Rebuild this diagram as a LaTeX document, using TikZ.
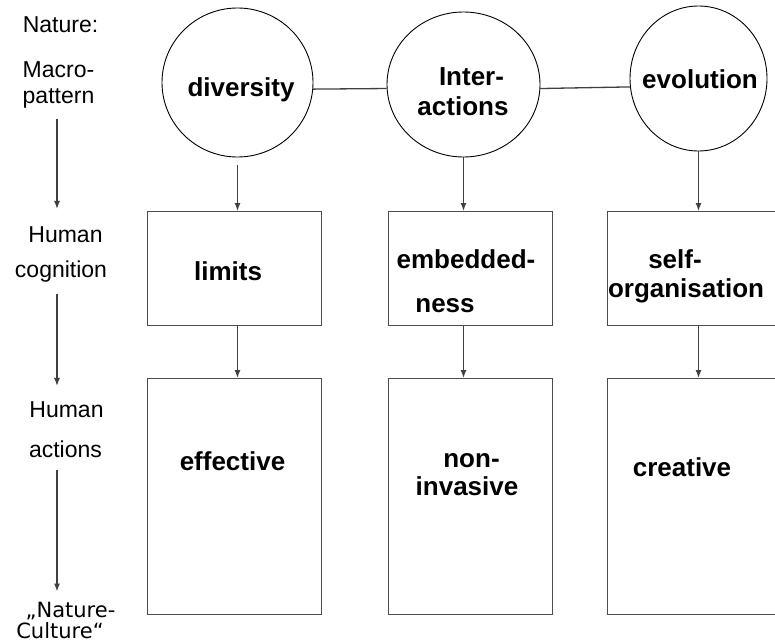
\documentclass[tikz,border=0pt]{standalone}
\usepackage{fontspec}
\setmainfont{Liberation Sans}
\newfontfamily\handfont{DejaVu Sans}
\usetikzlibrary{arrows.meta,shapes.geometric}
\begin{document}
\begin{tikzpicture}[x=1pt,y=-1pt,>={Latex[length=8pt,width=6pt]},
    lbl/.style={anchor=base,inner sep=0pt,font=\fontsize{23}{26}\selectfont},
    hand/.style={anchor=base,inner sep=0pt,font=\handfont\fontsize{21}{24}\selectfont},
    key/.style={anchor=base,inner sep=0pt,font=\fontsize{26}{30}\selectfont\bfseries},
    bubble/.style={draw,ellipse,inner sep=0pt,line width=0.9pt},
    field/.style={draw=black!70,anchor=north west,inner sep=0pt,line width=1.3pt},
    link/.style={draw=black!75,line width=1.3pt}]
    \useasboundingbox (0,0) rectangle (775,642);
    \clip (0,0) rectangle (775,642);
    \coordinate (axis) at (57,0);
    % levels on the left
    \node[lbl] (nat) at (60.5,33) {Nature:};
    \node[lbl] (mac) at (58.5,77) {Macro-};
    \node[lbl] (pat) at (58.5,103) {pattern};
    \node[lbl] (hum1) at (65.5,242) {Human};
    \node[lbl] (cog) at (61,277) {cognition};
    \node[lbl] (hum2) at (66.5,417) {Human};
    \node[lbl] (act) at (65.5,457) {actions};
    \node[hand] (nc1) at (70.5,617) {„Nature-};
    \node[hand] (nc2) at (60,638) {Culture“};
    \draw[link,->,shorten <=11pt,shorten >=17pt] (pat.south -| axis) -- (hum1.north -| axis);
    \draw[link,->,shorten <=12pt,shorten >=15pt] (cog.south -| axis) -- (hum2.north -| axis);
    \draw[link,->,shorten <=13pt,shorten >=10pt] (act.south -| axis) -- (nc1.north -| axis);
    % macro-pattern
    \node[bubble,minimum width=151,minimum height=149] (div) at (237.5,82.5) {};
    \node[bubble,minimum width=153,minimum height=145] (int) at (463.5,84.5) {};
    \node[bubble,minimum width=137,minimum height=145] (evo) at (698.5,78.5) {};
    \node[key] (divt) at (241,96) {diversity};
    \node[key] (intt) at (471.5,85) {Inter-};
    \node[key] (intt2) at (463,115) {actions};
    \node[key] (evot) at (700,88) {evolution};
    \draw[link] (div.-5) -- (int.183);
    \draw[link] (int.-3) -- (evo.187);
    % cognition
    \node[field,minimum width=174,minimum height=114] (lim) at (147,211) {};
    \node[field,minimum width=164,minimum height=114] (emb) at (388,211) {};
    \node[field,minimum width=185,minimum height=114] (slf) at (607,211) {};
    \node[key] (limt) at (228,280) {limits};
    \node[key] (embt) at (466,268) {embedded-};
    \node[key] (embt2) at (445,312) {ness};
    \node[key] (slft) at (675,268) {self-};
    \node[key] (slft2) at (686,297) {organisation};
    % actions
    \node[field,minimum width=174,minimum height=236] (eff) at (147,378) {};
    \node[field,minimum width=164,minimum height=236] (non) at (388,378) {};
    \node[field,minimum width=185,minimum height=236] (cre) at (607,378) {};
    \node[key] (efft) at (232.5,470) {effective};
    \node[key] (nont) at (471.5,467) {non-};
    \node[key] (nont2) at (467,495) {invasive};
    \node[key] (cret) at (682,476) {creative};
    \draw[link,->,shorten <=8pt] (div.south) -- (div.south |- lim.north);
    \draw[link,->] (int.south) -- (int.south |- emb.north);
    \draw[link,->] (evo.south) -- (evo.south |- slf.north);
    \draw[link,->] (div.south |- lim.south) -- (div.south |- eff.north);
    \draw[link,->] (int.south |- emb.south) -- (int.south |- non.north);
    \draw[link,->] (evo.south |- slf.south) -- (evo.south |- cre.north);
\end{tikzpicture}
\end{document}
